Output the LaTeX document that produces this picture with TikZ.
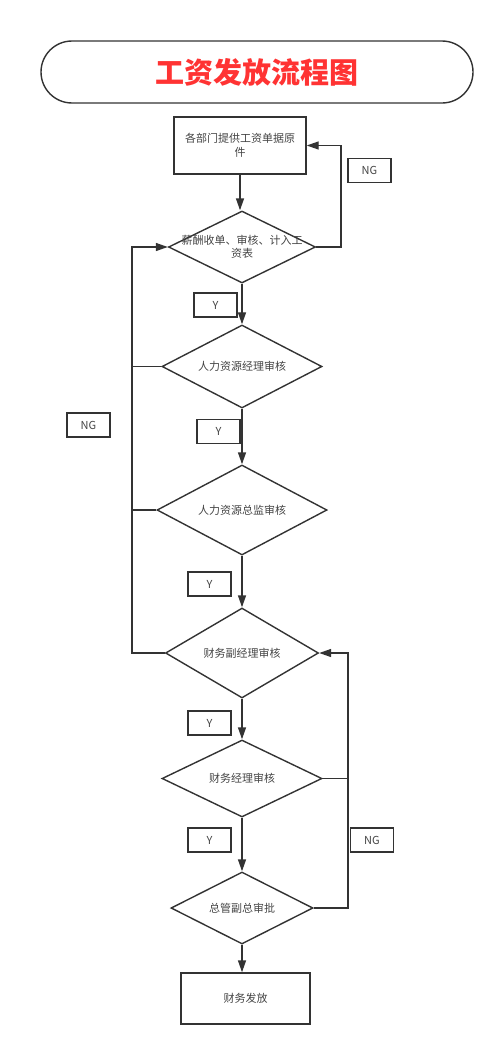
\documentclass[tikz,border=0pt]{standalone}
\usepackage{fontspec}
\newfontfamily\cjk{Noto Sans CJK SC}
\usepackage{tikz}
\usetikzlibrary{arrows.meta,shapes.geometric,calc,positioning}
\definecolor{strich}{HTML}{333333}
\definecolor{schrift}{HTML}{444444}
\definecolor{titelrot}{HTML}{FF3333}
\begin{document}
\begin{tikzpicture}[x=1pt,y=-1pt,
  linie/.style={draw=strich,line width=1.4pt},
  pfeil/.style={linie,-{Triangle[length=12pt,width=8pt]}},
  kasten/.style 2 args={linie,rectangle,minimum width=#1,minimum height=#2,align=center,text=schrift,font=\cjk\fontsize{11}{14}\selectfont},
  raute/.style 2 args={linie,diamond,aspect=2,inner sep=0pt,minimum width=#1,minimum height=#2,text=schrift,font=\cjk\fontsize{11}{14}\selectfont},
  marke/.style={linie,minimum width=43pt,minimum height=24pt,inner sep=0pt,text=schrift,font=\cjk\fontsize{11}{14}\selectfont}]
\useasboundingbox (0,0) rectangle (500,1052);
%Titel
\node[linie,rounded corners=31pt,minimum width=432pt,minimum height=62pt] (titel) at (257,72)
  {\cjk\bfseries\fontsize{29}{30}\selectfont\color{titelrot}工资发放流程图};
%Kaesten und Rauten (Pixel der Vorlage)
\node[kasten={132pt}{57pt}] (box1) at (240,145.5) {各部门提供工资单据原\\件};
\node[raute={147pt}{72pt},label={[text=schrift,align=center,font=\cjk\fontsize{11}{13}\selectfont]center:{薪酬收单、审核、计入工\\资表}}] (d1) at (242,247) {};
\node[raute={160pt}{83pt}] (d2) at (242,366.5) {人力资源经理审核};
\node[raute={170pt}{90pt}] (d3) at (242,510) {人力资源总监审核};
\node[raute={153pt}{90pt}] (d4) at (242,653) {财务副经理审核};
\node[raute={160pt}{77pt}] (d5) at (242,778.5) {财务经理审核};
\node[raute={142pt}{72pt}] (d6) at (242,908) {总管副总审批};
\node[kasten={129pt}{51pt}] (fin) at (245.5,998.5) {财务发放};
%Y und NG
\foreach \px/\py [count=\i] in {215.5/305,218.5/431.5,209.5/584,209.5/723,209.5/840}
  \node[marke] (y\i) at (\px,\py) {Y};
\foreach \px/\py [count=\i] in {369.5/170.5,88.5/425,372/840}
  \node[marke] (ng\i) at (\px,\py) {NG};
%Pfeile nach unten
\draw[pfeil] (box1.south) -- (box1.south |- d1.north);
\draw[pfeil] (d1) -- (d2);
\draw[pfeil] (d2) -- (d3);
\draw[pfeil] (d3) -- (d4);
\draw[pfeil] (d4) -- (d5);
\draw[pfeil] (d5) -- (d6);
\draw[pfeil] (d6.south) -- (d6.south |- fin.north);
%Rueckfuehrungen
\coordinate (oben) at (341,145.5);
\coordinate (links) at (132,247);
\coordinate (rechts) at (348,653);
\draw[pfeil] (d1.east) -| (oben) -- (box1.east);
\draw[pfeil] (d4.west) -| (links) -- (d1.west);
\draw[linie] (d2.west) -- (d2.west -| links);
\draw[linie] (d3.west) -- (d3.west -| links);
\draw[pfeil] (d6.east) -| (rechts) -- (d4.east);
\draw[linie] (d5.east) -- (d5.east -| rechts);
\end{tikzpicture}
\end{document}
